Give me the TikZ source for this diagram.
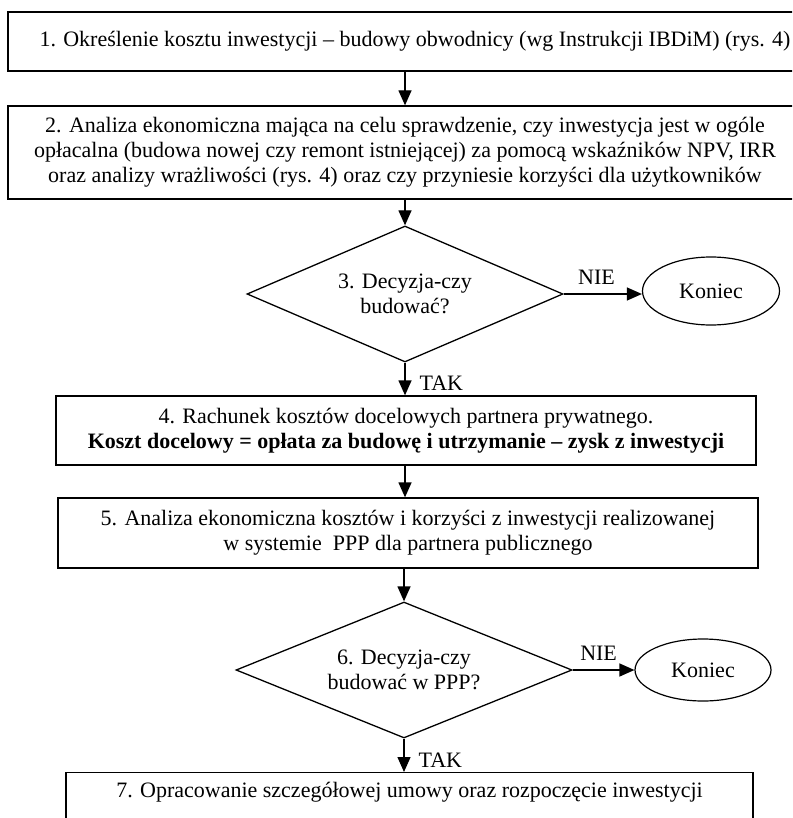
\documentclass[tikz,border=0pt]{standalone}
\usepackage{fontspec}
\setmainfont{Liberation Serif}
\usetikzlibrary{shapes.geometric,arrows.meta}
\begin{document}
\begin{tikzpicture}[x=1pt,y=-1pt,
  every node/.style={font=\fontsize{22}{25}\selectfont, inner sep=0pt},
  box/.style={draw, line width=1.3pt, rectangle, align=center},
  dec/.style={draw, line width=1.3pt, diamond, shape aspect=2.4, align=center},
  term/.style={draw, line width=1.2pt, ellipse},
  arr/.style={line width=1.3pt, -{Triangle[length=15pt,width=13pt]}}]
\useasboundingbox (0,0) rectangle (792,818);
\clip (0,0) rectangle (792,818);
\fill[white] (0,0) rectangle (792,818);

\node[box, minimum width=814pt, minimum height=59pt] (b1) at (415,41.5)
  {1. Określenie kosztu inwestycji – budowy obwodnicy (wg Instrukcji IBDiM) (rys. 4)};
\node[box, minimum width=794pt, minimum height=93pt] (b2) at (405,152.5)
  {2. Analiza ekonomiczna mająca na celu sprawdzenie, czy inwestycja jest w ogóle\\
   opłacalna (budowa nowej czy remont istniejącej) za pomocą wskaźników NPV, IRR\\
   oraz analizy wrażliwości (rys. 4) oraz czy przyniesie korzyści dla użytkowników};
\node[dec, minimum width=316pt, minimum height=136pt] (d3) at (405,294)
  {3. Decyzja-czy\\budować?};
\node[term, minimum width=137pt, minimum height=68pt] (e3) at (711,291) {Koniec};
\node[box, minimum width=700pt, minimum height=69pt] (b4) at (406,430.5)
  {4. Rachunek kosztów docelowych partnera prywatnego.\\
   \textbf{Koszt docelowy = opłata za budowę i utrzymanie – zysk z inwestycji}};
\node[box, minimum width=700pt, minimum height=70pt] (b5) at (408,533)
  {5. Analiza ekonomiczna kosztów i korzyści z inwestycji realizowanej\\
   w systemie \ PPP dla partnera publicznego};
\node[dec, minimum width=336pt, minimum height=136pt] (d6) at (404,670)
  {6. Decyzja-czy\\budować w PPP?};
\node[term, minimum width=136pt, minimum height=62pt] (e6) at (703,670) {Koniec};
\node[box, minimum width=687pt, minimum height=90pt, anchor=north,
  label={[anchor=north, yshift=-10pt]north:7. Opracowanie szczegółowej umowy oraz rozpoczęcie inwestycji}]
  (b7) at (409.5,772) {};

\draw[arr] (b1.south -| b2.north) -- (b2.north);
\draw[arr] (b2.south -| d3.north) -- (d3.north);
\draw[arr] (d3.east) -- node[pos=0.42, above=9pt] {NIE} (d3.east -| e3.west);
\draw[arr] (d3.south) -- node[pos=0.62, anchor=west, xshift=14pt] {TAK} (d3.south |- b4.north);
\draw[arr] (b4.south -| d3.south) -- (b5.north -| d3.south);
\draw[arr] (b5.south -| d6.north) -- (d6.north);
\draw[arr] (d6.east) -- node[pos=0.42, above=9pt] {NIE} (d6.east -| e6.west);
\draw[arr] (d6.south) -- node[pos=0.66, anchor=west, xshift=14pt] {TAK} (d6.south |- b7.north);
\end{tikzpicture}
\end{document}
